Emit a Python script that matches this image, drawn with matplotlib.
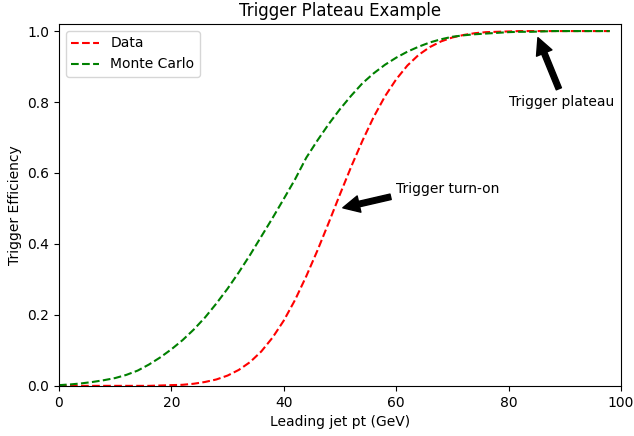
import numpy as np
import matplotlib
matplotlib.use("Agg")
import matplotlib.pyplot as plt

# leading jet pt (GeV)
pt = np.arange(0, 100, 2)

# efficiencies
eff_data = [0.0, 0.0, 0.0, 0.0, 0.0, 0.0, 0.0, 0.0, 0.0, 0.001,
            0.002, 0.003, 0.006, 0.011, 0.018, 0.029, 0.045, 0.067, 0.097, 0.136,
            0.184, 0.242, 0.309, 0.382, 0.460, 0.540, 0.618, 0.691, 0.758, 0.816,
            0.864, 0.903, 0.933, 0.955, 0.971, 0.982, 0.989, 0.994, 0.997, 0.998,
            0.999, 1.0, 1.0, 1.0, 1.0, 1.0, 1.0, 1.0, 1.0, 1.0]
eff_mc = [0.002, 0.004, 0.007, 0.011, 0.016, 0.022, 0.031, 0.043, 0.060, 0.080,
          0.103, 0.129, 0.159, 0.193, 0.232, 0.274, 0.320, 0.369, 0.421, 0.473,
          0.527, 0.582, 0.643, 0.692, 0.738, 0.780, 0.818, 0.853, 0.881, 0.905,
          0.925, 0.942, 0.956, 0.968, 0.977, 0.984, 0.988, 0.991, 0.993, 0.995,
          0.997, 0.998, 0.998, 0.999, 1.0, 1.0, 1.0, 1.0, 1.0, 1.0]

fig, ax = plt.subplots(figsize=(6.34, 4.36), dpi=100)
fig.subplots_adjust(left=0.093, right=0.9795, bottom=0.115, top=0.945)

ax.plot(pt, eff_data, 'r--', label='Data')
ax.plot(pt, eff_mc, 'g--', label='Monte Carlo')

ax.annotate('Trigger turn-on', xy=(50, 0.5), xytext=(60, 0.545),
            arrowprops=dict(facecolor='black', shrink=0.05))
ax.annotate('Trigger plateau', xy=(85, 0.99), xytext=(80, 0.79),
            arrowprops=dict(facecolor='black', shrink=0.05))

ax.set_xlim(0, 100)
ax.set_ylim(0, 1.02)
ax.set_xlabel('Leading jet pt (GeV)')
ax.set_ylabel('Trigger Efficiency')
ax.set_title('Trigger Plateau Example')
ax.legend(loc='upper left')

fig.savefig('out.png')
